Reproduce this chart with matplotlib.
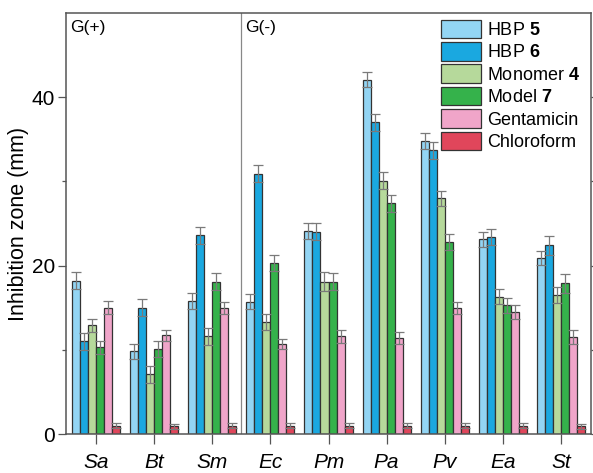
import matplotlib
matplotlib.use("Agg")
import matplotlib.pyplot as plt
import numpy as np

plt.rcParams['font.family'] = ['Liberation Sans', 'DejaVu Sans']
plt.rcParams['mathtext.fontset'] = 'custom'
plt.rcParams['mathtext.rm'] = 'Liberation Sans'
plt.rcParams['mathtext.bf'] = 'Liberation Sans:bold'

categories = ["Sa", "Bt", "Sm", "Ec", "Pm", "Pa", "Pv", "Ea", "St"]
series_names = ["HBP $\\mathbf{5}$", "HBP $\\mathbf{6}$", "Monomer $\\mathbf{4}$",
                "Model $\\mathbf{7}$", "Gentamicin", "Chloroform"]
colors = ["#93d5f4", "#1aa8e0", "#b6d99b", "#35b24b", "#f0a5c9", "#e0465b"]

hbp5 = [18.2, 9.8, 15.8, 15.7, 24.1, 42.1, 34.8, 23.1, 20.9]
hbp6 = [11.0, 15.0, 23.6, 30.9, 24.0, 37.0, 33.7, 23.4, 22.4]
monomer4 = [12.9, 7.1, 11.6, 13.3, 18.1, 30.1, 28.0, 16.3, 16.5]
model7 = [10.3, 10.1, 18.1, 20.3, 18.1, 27.4, 22.8, 15.3, 17.9]
gentamicin = [15.0, 11.7, 15.0, 10.7, 11.6, 11.4, 15.0, 14.5, 11.5]
chloroform = [1.0, 0.9, 1.0, 1.0, 1.0, 1.0, 1.0, 1.0, 0.9]

err_hbp5 = [1.0, 0.9, 1.0, 0.9, 1.0, 0.9, 0.9, 0.9, 0.8]
err_hbp6 = [1.0, 1.0, 1.0, 1.0, 1.0, 1.0, 1.0, 1.0, 1.1]
err_monomer4 = [0.8, 1.0, 1.0, 1.0, 1.1, 1.0, 0.9, 0.9, 1.0]
err_model7 = [0.8, 1.0, 1.0, 0.9, 1.0, 1.0, 0.9, 0.9, 1.1]
err_gentamicin = [0.8, 0.7, 0.7, 0.6, 0.8, 0.7, 0.7, 0.8, 0.8]
err_chloroform = [0.3, 0.3, 0.3, 0.3, 0.3, 0.3, 0.3, 0.3, 0.3]

values = [hbp5, hbp6, monomer4, model7, gentamicin, chloroform]
errors = [err_hbp5, err_hbp6, err_monomer4, err_model7, err_gentamicin, err_chloroform]

fig = plt.figure(figsize=(5.93, 4.73), dpi=100)
ax = fig.add_axes([66/593, 39/473, 525/593, 421/473])

x = np.arange(len(categories))
w = 0.138
for i, (vals, errs, c, name) in enumerate(zip(values, errors, colors, series_names)):
    ax.bar(x + (i - 2.5) * w, vals, width=w, color=c, edgecolor="#333333",
           linewidth=0.9, label=name, zorder=2,
           yerr=errs, error_kw=dict(ecolor="#7a7a7a", elinewidth=0.9, capsize=3.5,
                                    capthick=0.9, zorder=3))

ax.set_xlim(-0.52, 8.52)
ax.set_ylim(0, 50)
ax.axvline(2.5, color="#888888", linewidth=0.9, zorder=1)

ax.set_yticks([0, 20, 40])
ax.set_yticks([10, 30], minor=True)
ax.tick_params(axis='y', which='major', direction='out', length=6, width=0.9,
               labelsize=15, colors="#555555", labelcolor="black", right=True, pad=2)
ax.tick_params(axis='y', which='minor', direction='out', length=3, width=0.9,
               colors="#555555", right=True)
ax.set_xticks(x)
ax.set_xticklabels(categories, fontstyle='italic', fontsize=15)
ax.tick_params(axis='x', direction='out', length=7, width=0.9, pad=7,
               colors="#555555", labelcolor="black")

for s in ax.spines.values():
    s.set_color("#555555")
    s.set_linewidth(1.1)

ax.set_ylabel("Inhibition zone (mm)", fontsize=15.5, labelpad=2)

ax.text(0.008, 0.983, "G(+)", transform=ax.transAxes, fontsize=12.5, va='top', ha='left')
ax.text(0.341, 0.983, "G(-)", transform=ax.transAxes, fontsize=12.5, va='top', ha='left')

leg = ax.legend(loc='upper right', bbox_to_anchor=(1.0, 1.01), frameon=False,
                fontsize=13, handlelength=2.2, handleheight=1.2,
                labelspacing=0.17, handletextpad=0.35, borderaxespad=0.2)

fig.savefig("out.png", dpi=100)
